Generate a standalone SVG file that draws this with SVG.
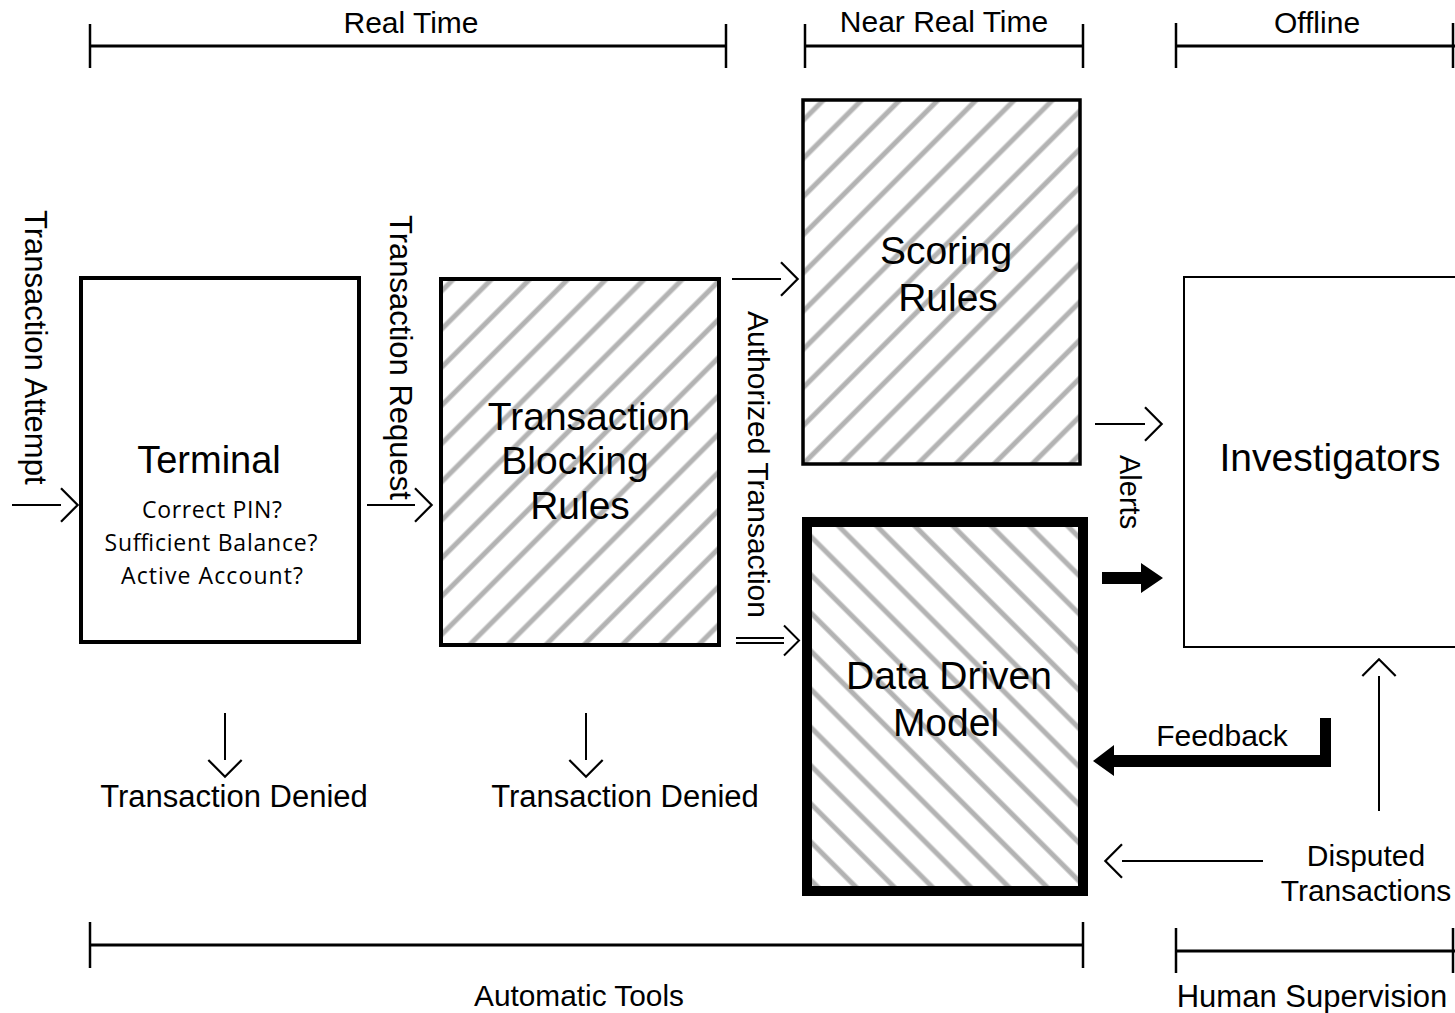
<svg xmlns="http://www.w3.org/2000/svg" width="1455" height="1013" viewBox="0 0 1455 1013">
  <style>
    .lbl { font-family: "Liberation Sans", Arial, sans-serif; fill: #000; }
    .big { font-size: 39px; text-anchor: middle; }
    .mid { font-size: 30px; }
    .mid31 { font-size: 31px; }
    .sub { font-family: "Open Sans", "Liberation Sans", sans-serif; font-size: 23px; text-anchor: middle; fill: #000; }
    .box { stroke: #000; }
    .thin { stroke: #000; stroke-width: 2; fill: none; }
    .brk { stroke: #000; stroke-width: 3; fill: none; }
    .tick { stroke: #000; stroke-width: 2.5; fill: none; }
    .solid { fill: #000; stroke: none; }
  </style>
  <defs>
    <pattern id="hatchUp" patternUnits="userSpaceOnUse" width="27" height="27" patternTransform="rotate(45)">
      <rect width="27" height="27" fill="#fff"/>
      <line x1="5" y1="0" x2="5" y2="27" stroke="#b3b3b3" stroke-width="5"/>
    </pattern>
    <pattern id="hatchDown" patternUnits="userSpaceOnUse" width="27" height="27" patternTransform="rotate(-45)">
      <rect width="27" height="27" fill="#fff"/>
      <line x1="5" y1="0" x2="5" y2="27" stroke="#b3b3b3" stroke-width="5"/>
    </pattern>
    <!-- open chevron head, tip sits 15px past the end of the shaft -->
    <marker id="chev" markerUnits="userSpaceOnUse" markerWidth="40" markerHeight="40" viewBox="-2 -18 20 36" refX="0" refY="0" orient="auto" overflow="visible">
      <path d="M0,-15 L15,0 L0,15" fill="none" stroke="#000" stroke-width="2"/>
    </marker>
  </defs>

  <rect width="1455" height="1013" fill="#fff"/>

  <!-- timeline brackets -->
  <g id="brackets">
    <line class="brk" x1="90" y1="46" x2="726" y2="46"/>
    <line class="tick" x1="90" y1="24" x2="90" y2="68"/>
    <line class="tick" x1="726" y1="24" x2="726" y2="68"/>
    <text class="lbl mid" x="411" y="33" text-anchor="middle">Real Time</text>

    <line class="brk" x1="805" y1="46" x2="1083" y2="46"/>
    <line class="tick" x1="805" y1="24" x2="805" y2="68"/>
    <line class="tick" x1="1083" y1="24" x2="1083" y2="68"/>
    <text class="lbl mid" x="944" y="32" text-anchor="middle">Near Real Time</text>

    <line class="brk" x1="1176" y1="46" x2="1455" y2="46"/>
    <line class="tick" x1="1176" y1="23" x2="1176" y2="68"/>
    <line class="tick" x1="1453" y1="23" x2="1453" y2="68"/>
    <text class="lbl mid" x="1317" y="33" text-anchor="middle">Offline</text>

    <line class="brk" x1="90" y1="945" x2="1083" y2="945"/>
    <line class="tick" x1="90" y1="922" x2="90" y2="968"/>
    <line class="tick" x1="1083" y1="922" x2="1083" y2="968"/>
    <text class="lbl mid" x="579" y="1006" text-anchor="middle" textLength="210" lengthAdjust="spacingAndGlyphs">Automatic Tools</text>

    <line class="brk" x1="1176" y1="951" x2="1455" y2="951"/>
    <line class="tick" x1="1176" y1="928" x2="1176" y2="973"/>
    <line class="tick" x1="1453" y1="928" x2="1453" y2="973"/>
    <text class="lbl mid31" x="1312" y="1007" text-anchor="middle">Human Supervision</text>
  </g>

  <g id="terminal">
    <rect class="box" x="81" y="278" width="278" height="364" fill="#fff" stroke-width="4"/>
    <text class="lbl" x="209" y="473" font-size="38" text-anchor="middle">Terminal</text>
    <text class="sub" x="212" y="518" textLength="140">Correct PIN?</text>
    <text class="sub" x="211" y="551" textLength="213">Sufficient Balance?</text>
    <text class="sub" x="212" y="584" textLength="182">Active Account?</text>
  </g>

  <g id="blocking-rules">
    <rect class="box" x="441" y="279" width="278" height="366" fill="url(#hatchUp)" stroke-width="4"/>
    <text class="lbl big" x="589" y="430">Transaction</text>
    <text class="lbl big" x="575" y="474">Blocking</text>
    <text class="lbl big" x="580" y="519">Rules</text>
  </g>

  <g id="scoring-rules">
    <rect class="box" x="803" y="100" width="277" height="364" fill="url(#hatchUp)" stroke-width="3.5"/>
    <text class="lbl big" x="946" y="264">Scoring</text>
    <text class="lbl big" x="948" y="311">Rules</text>
  </g>

  <g id="data-driven-model">
    <rect class="box" x="807" y="522" width="276" height="369" fill="url(#hatchDown)" stroke-width="10"/>
    <text class="lbl big" x="949" y="689">Data Driven</text>
    <text class="lbl big" x="946" y="736">Model</text>
  </g>

  <g id="investigators">
    <rect class="box" x="1184" y="277" width="300" height="370" fill="#fff" stroke-width="2"/>
    <text class="lbl big" x="1330" y="471">Investigators</text>
  </g>

  <g id="outcomes">
    <text class="lbl mid31" x="234" y="807" text-anchor="middle">Transaction Denied</text>
    <text class="lbl mid31" x="625" y="807" text-anchor="middle">Transaction Denied</text>
    <text class="lbl mid" x="1366" y="866" text-anchor="middle">Disputed</text>
    <text class="lbl mid" x="1366" y="901" text-anchor="middle">Transactions</text>
  </g>

  <g id="connectors">
    <!-- incoming attempt -->
    <line class="thin" x1="12" y1="505" x2="61" y2="505" marker-end="url(#chev)"/>
    <text class="lbl mid31" transform="translate(25,210) rotate(90)">Transaction Attempt</text>

    <!-- terminal to blocking rules -->
    <line class="thin" x1="367" y1="505" x2="415" y2="505" marker-end="url(#chev)"/>
    <text class="lbl mid31" transform="translate(390,215) rotate(90)">Transaction Request</text>

    <!-- authorized transactions fan out -->
    <line class="thin" x1="732" y1="279" x2="781" y2="279" marker-end="url(#chev)"/>
    <line class="thin" x1="736" y1="638" x2="784" y2="638"/>
    <line class="thin" x1="736" y1="643" x2="784" y2="643"/>
    <path class="thin" d="M784,625.5 L799,640.5 L784,655.5"/>
    <text class="lbl mid" transform="translate(748,311) rotate(90)" textLength="307" lengthAdjust="spacingAndGlyphs">Authorized Transaction</text>

    <!-- denials -->
    <line class="thin" x1="225" y1="713" x2="225" y2="760" marker-end="url(#chev)"/>
    <line class="thin" x1="586" y1="713" x2="586" y2="760" marker-end="url(#chev)"/>

    <!-- alerts -->
    <line class="thin" x1="1095" y1="424" x2="1145" y2="424" marker-end="url(#chev)"/>
    <polygon class="solid" points="1102,572 1141,572 1141,563 1163,578 1141,593 1141,584 1102,584"/>
    <text class="lbl" font-size="29" transform="translate(1120,455) rotate(90)">Alerts</text>

    <!-- feedback -->
    <polygon class="solid" points="1320,718 1331,718 1331,767 1114,767 1114,776 1093,761 1114,745 1114,755 1320,755"/>
    <text class="lbl mid" x="1222" y="746" text-anchor="middle">Feedback</text>

    <!-- disputed transactions -->
    <line class="thin" x1="1263" y1="861" x2="1122" y2="861" marker-end="url(#chev)"/>
    <line class="thin" x1="1379" y1="811" x2="1379" y2="676" marker-end="url(#chev)"/>
  </g>
</svg>
